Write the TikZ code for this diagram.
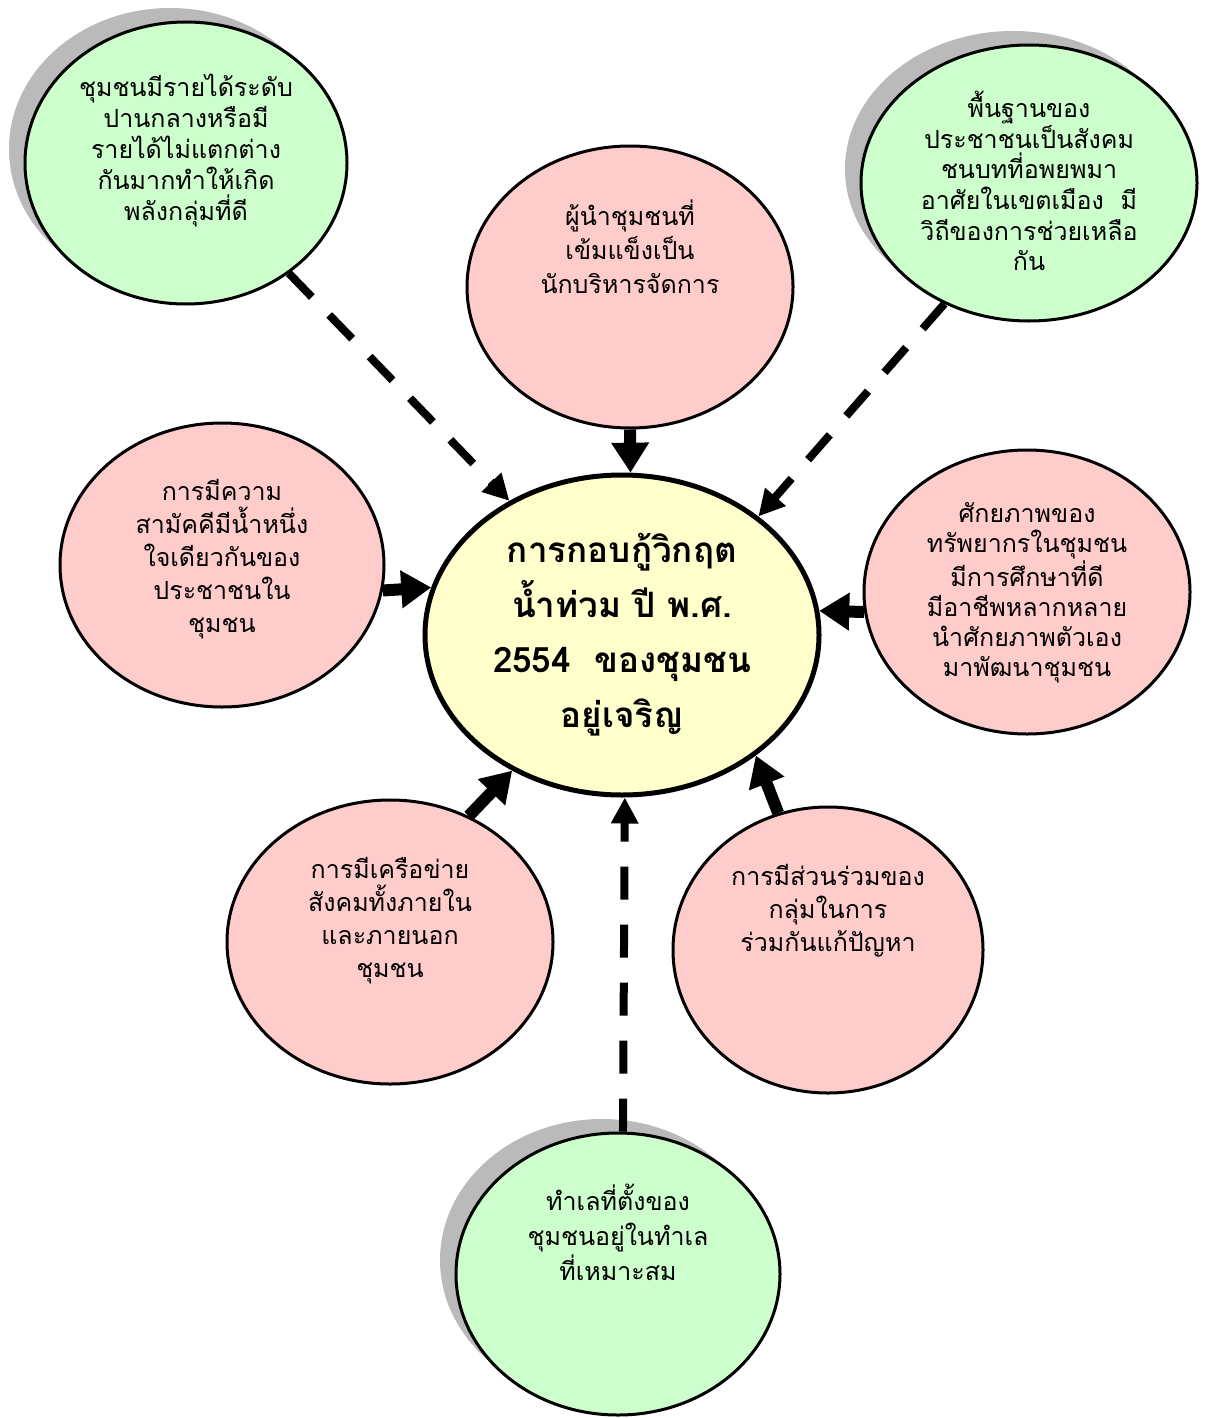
\documentclass[tikz,border=0pt]{standalone}
\usepackage{fontspec}
\newfontfamily\thaifont[Script=Thai]{Loma}
\usetikzlibrary{shapes.geometric,arrows.meta,shadows}

\definecolor{greenfill}{HTML}{CCFFCC}
\definecolor{pinkfill}{HTML}{FFCCCC}
\definecolor{yellowfill}{HTML}{FFFFCC}

\tikzset{
  bubble/.style={ellipse, draw, line width=1.5pt, inner sep=0pt},
  greenbub/.style={bubble, fill=greenfill,
    drop shadow={shadow xshift=-8pt, shadow yshift=7pt, fill=black!27, opacity=1}},
  pinkbub/.style={bubble, fill=pinkfill},
  ctrbub/.style={bubble, fill=yellowfill, line width=2.5pt, align=center,
    font=\thaifont\bfseries\fontsize{17.5}{27.5}\selectfont},
  txt/.style={align=center, font=\thaifont\fontsize{12.5}{#1}\selectfont},
  txt/.default=16.5,
  fatarrow/.style={line width=6pt, -{Triangle[width=18pt,length=15pt]}},
  dasharrow/.style={line width=4pt, dash pattern=on 16.5pt off 12.5pt,
    -{Triangle[width=13pt,length=13pt]}}
}

\begin{document}
\begin{tikzpicture}[x=0.5pt, y=-0.5pt]
  \useasboundingbox (0,0) rectangle (1208,1418);

  % 中心
  \node[ctrbub, minimum width=197pt, minimum height=160pt] (ctr) at (622,635)
    {การกอบกู้วิกฤต\\น้ำท่วม ปี พ.ศ.\\2554\ \ ของชุมชน\\อยู่เจริญ};

  % 緑の楕円 (影つき)
  \node[greenbub, minimum width=161pt, minimum height=141pt] (tl) at (186,163) {};
  \node[greenbub, minimum width=168pt, minimum height=138pt] (tr) at (1029,183) {};
  \node[greenbub, minimum width=162pt, minimum height=141pt] (b) at (618,1274) {};

  % ピンクの楕円
  \node[pinkbub, minimum width=163pt, minimum height=141pt] (tc) at (630,287) {};
  \node[pinkbub, minimum width=162pt, minimum height=142pt] (l) at (222,565) {};
  \node[pinkbub, minimum width=163pt, minimum height=142pt] (r) at (1027,592) {};
  \node[pinkbub, minimum width=163pt, minimum height=142pt] (bl) at (390,942) {};
  \node[pinkbub, minimum width=155pt, minimum height=143pt] (br) at (828,950) {};

  % 文字
  \node[txt=15.5] (tltxt) at (186,151) {ชุมชนมีรายได้ระดับ\\ปานกลางหรือมี\\รายได้ไม่แตกต่าง\\กันมากทำให้เกิด\\พลังกลุ่มที่ดี};
  \node[txt=15.3] (trtxt) at (1029,181) {พื้นฐานของ\\ประชาชนเป็นสังคม\\ชนบทที่อพยพมา\\อาศัยในเขตเมือง~~มี\\วิถีของการช่วยเหลือ\\กัน};
  \node[txt=17.5] (btxt) at (618,1232) {ทำเลที่ตั้งของ\\ชุมชนอยู่ในทำเล\\ที่เหมาะสม};
  \node[txt=17] (tctxt) at (630,247) {ผู้นำชุมชนที่\\เข้มแข็งเป็น\\นักบริหารจัดการ};
  \node[txt] (ltxt) at (222,559) {การมีความ\\สามัคคีมีน้ำหนึ่ง\\ใจเดียวกันของ\\ประชาชนใน\\ชุมชน};
  \node[txt=15] (rtxt) at (1027,593) {ศักยภาพของ\\ทรัพยากรในชุมชน\\มีการศึกษาที่ดี\\มีอาชีพหลากหลาย\\นำศักยภาพตัวเอง\\มาพัฒนาชุมชน};
  \node[txt] (bltxt) at (390,921) {การมีเครือข่าย\\สังคมทั้งภายใน\\และภายนอก\\ชุมชน};
  \node[txt] (brtxt) at (828,911) {การมีส่วนร่วมของ\\กลุ่มในการ\\ร่วมกันแก้ปัญหา};

  % 矢印 (実線)
  \foreach \s/\a/\e in {tc/-90/87, l/-9.5/166, r/187/7, bl/58/231, br/110/-42} {
    \draw[fatarrow] (\s.\a) -- (ctr.\e);
  }

  % 矢印 (破線)
  \foreach \s/\a/\e in {tl/-47/130, tr/235/41, b/88/-89} {
    \draw[dasharrow] (\s.\a) -- (ctr.\e);
  }
\end{tikzpicture}
\end{document}
